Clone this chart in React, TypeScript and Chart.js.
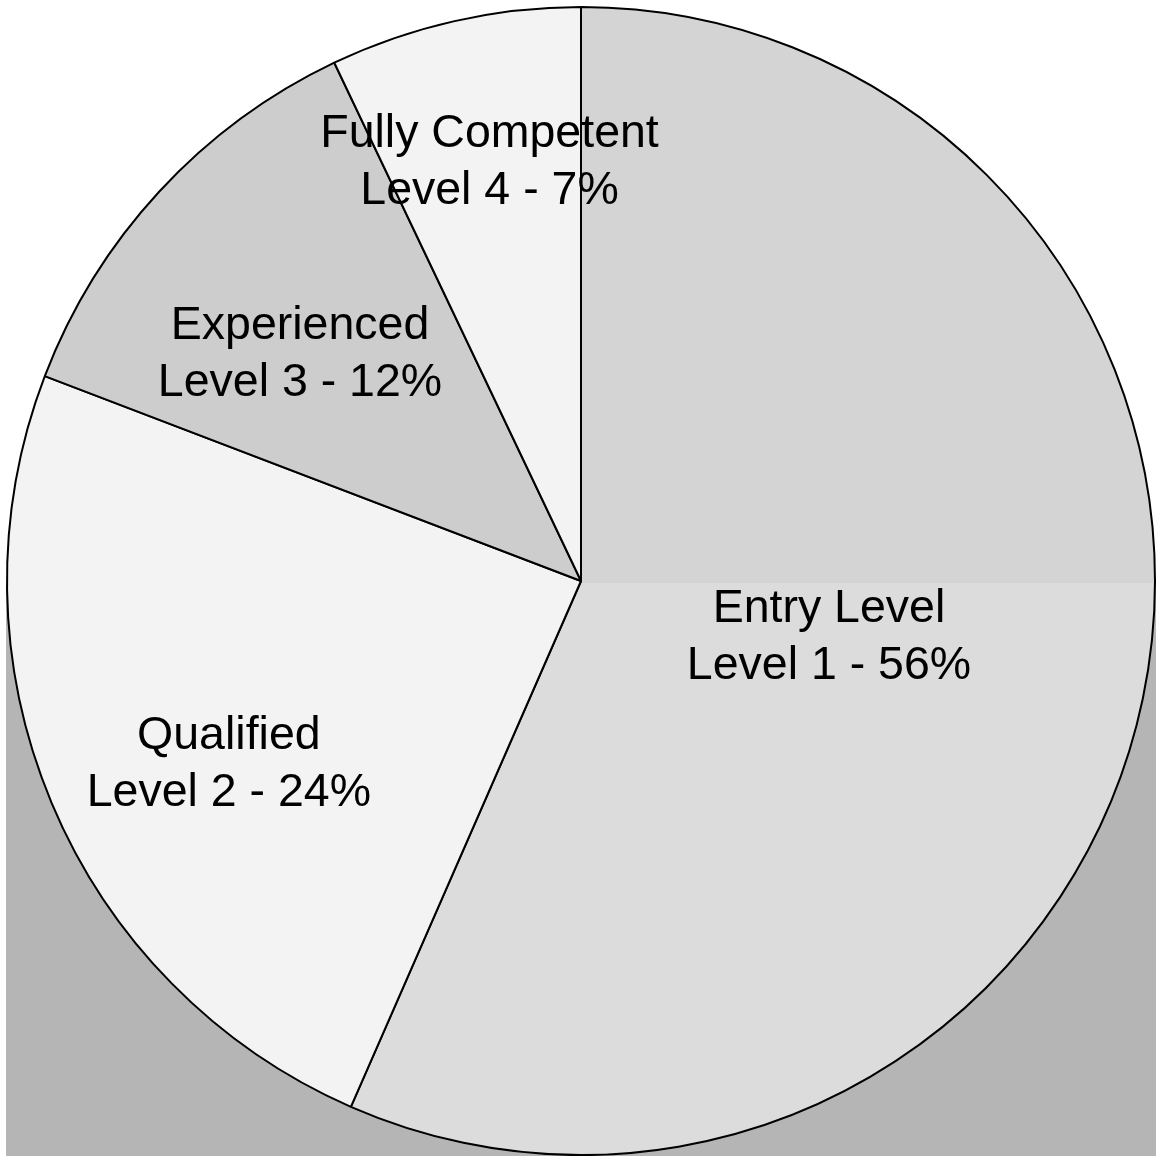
import React, { useEffect, useRef } from "react";
import { Chart, registerables } from "chart.js";

Chart.register(...registerables);

const categories = ["Entry Level", "Qualified", "Experienced", "Fully Competent"];
const levelLabels = ["Level 1 - 56%", "Level 2 - 24%", "Level 3 - 12%", "Level 4 - 7%"];
const values = [56, 24, 12, 7];
const sliceColors = ["#dcdcdc", "#f3f3f3", "#cdcdcd", "#f3f3f3"];

// label placement: fraction of radius and angle shift (degrees) from slice mid-angle
const labelRadiusFrac = [0.449, 0.703, 0.614, 0.7235];
const labelAngleShift = [4, -6.5, -5.6, 0];

const backgroundPlugin = {
  id: "bgPlugin",
  beforeDraw(chart: any) {
    const { ctx, width, height, chartArea } = chart;
    const meta = chart.getDatasetMeta(0);
    const arc = meta.data[0];
    const cy = arc ? arc.y : height / 2;
    ctx.save();
    ctx.fillStyle = "#ffffff";
    ctx.fillRect(0, 0, width, height);
    ctx.fillStyle = "#b5b5b5";
    ctx.fillRect(chartArea.left, cy + 2, width - chartArea.left, height - cy - 2);
    ctx.restore();
  },
};

const labelPlugin = {
  id: "sliceLabels",
  afterDatasetsDraw(chart: any) {
    const { ctx } = chart;
    const meta = chart.getDatasetMeta(0);
    ctx.save();
    ctx.fillStyle = "#000000";
    ctx.font = '46.5px "Liberation Sans", Arial, Helvetica, sans-serif';
    ctx.textAlign = "center";
    ctx.textBaseline = "alphabetic";
    meta.data.forEach((arc: any, i: number) => {
      const { x, y, startAngle, endAngle, outerRadius } = arc.getProps(
        ["x", "y", "startAngle", "endAngle", "outerRadius"],
        true
      );
      const mid = (startAngle + endAngle) / 2 + (labelAngleShift[i] * Math.PI) / 180;
      const r = outerRadius * labelRadiusFrac[i];
      const ax = x + Math.cos(mid) * r;
      const ay = y + Math.sin(mid) * r;
      ctx.fillText(categories[i], ax, ay - 29);
      ctx.fillText(levelLabels[i], ax, ay + 28);
    });
    ctx.restore();
  },
};

export default function App() {
  const ref = useRef<HTMLCanvasElement | null>(null);

  useEffect(() => {
    if (!ref.current) return;
    const chart = new Chart(ref.current, {
      type: "pie",
      data: {
        labels: categories,
        datasets: [
          {
            data: values,
            backgroundColor: (c: any) => {
              const idx = c.dataIndex;
              const ch = c.chart;
              if (idx === 0 && ch.chartArea) {
                const { top, bottom } = ch.chartArea;
                const g = ch.ctx.createLinearGradient(0, top, 0, bottom);
                const mid = 0.5017;
                g.addColorStop(0, "#d4d4d4");
                g.addColorStop(mid, "#d4d4d4");
                g.addColorStop(mid + 0.0001, "#dcdcdc");
                g.addColorStop(1, "#dcdcdc");
                return g;
              }
              return sliceColors[idx];
            },
            borderColor: "#000000",
            borderWidth: 2,
          },
        ],
      },
      options: {
        responsive: false,
        animation: false,
        layout: { padding: { left: 6, top: 6, right: 0, bottom: 0 } },
        plugins: {
          legend: { display: false },
          tooltip: { enabled: false },
        },
      },
      plugins: [backgroundPlugin, labelPlugin],
    });
    return () => chart.destroy();
  }, []);

  return (
    <div style={{ position: "absolute", left: 0, top: 0, width: 1156, height: 1156 }}>
      <canvas ref={ref} width={1156} height={1156} style={{ display: "block" }} />
    </div>
  );
}
